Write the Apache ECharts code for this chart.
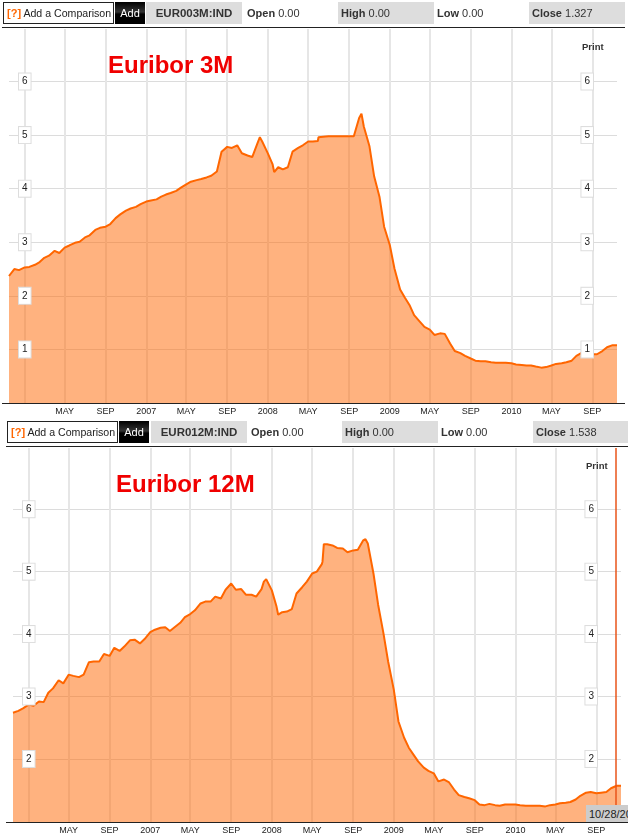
<!DOCTYPE html>
<html>
<head>
<meta charset="utf-8">
<title>Euribor 3M / 12M</title>
<script src="https://cdn.jsdelivr.net/npm/echarts@6/dist/echarts.min.js"></script>
<style>
html, body { margin: 0; padding: 0; background: #fff; }
body { width: 628px; height: 840px; position: relative; overflow: hidden; font-family: "Liberation Sans", Arial, sans-serif; color: #333; font-size: 11px; }
#chart { position: absolute; left: 0; top: 0; width: 628px; height: 840px; }
.bar { position: absolute; left: 0; width: 628px; height: 22px; line-height: 22px; }
.bar div { position: absolute; top: 0; height: 22px; white-space: nowrap; }
.cmp { box-sizing: border-box; border: 1px solid #222; width: 111px; line-height: 20px; color: #222; font-size: 10.6px; padding-left: 3px; }
.cmp b { color: #f60; font-size: 11px; }
.add { width: 30px; background: linear-gradient(#000 0, #333 45%, #000 55%); color: #fff; text-align: center; }
.ticker { width: 96px; background: #ddd; text-align: center; font-weight: bold; font-size: 11.5px; }
.grey { width: 96px; background: #ddd; }
.grey, .plain { padding-left: 3px; box-sizing: border-box; }
.plain { width: 90px; }
.rule { position: absolute; height: 1px; background: #222; }
.print { position: absolute; font-weight: bold; font-size: 9.5px; }
.stamp { position: absolute; left: 586px; top: 805px; width: 42px; height: 17px; line-height: 18px; background: #ccc; color: #222; overflow: hidden; white-space: nowrap; padding-left: 3px; box-sizing: border-box; }
</style>
</head>
<body>
<div id="chart"></div>

<div class="bar" style="top:2px">
  <div class="cmp" style="left:3px"><b>[?]</b> Add a Comparison</div>
  <div class="add" style="left:115px">Add</div>
  <div class="ticker" style="left:146px">EUR003M:IND</div>
  <div class="plain" style="left:244px"><b>Open</b> 0.00</div>
  <div class="grey" style="left:338px"><b>High</b> 0.00</div>
  <div class="plain" style="left:434px"><b>Low</b> 0.00</div>
  <div class="grey" style="left:529px"><b>Close</b> 1.327</div>
</div>
<div class="rule" style="left:2px;top:27px;width:623px"></div>
<div class="print" style="left:582px;top:41px">Print</div>
<div class="rule" style="left:2px;top:403px;width:623px"></div>

<div class="bar" style="top:421px">
  <div class="cmp" style="left:7px"><b>[?]</b> Add a Comparison</div>
  <div class="add" style="left:119px">Add</div>
  <div class="ticker" style="left:151px">EUR012M:IND</div>
  <div class="plain" style="left:248px"><b>Open</b> 0.00</div>
  <div class="grey" style="left:342px"><b>High</b> 0.00</div>
  <div class="plain" style="left:438px"><b>Low</b> 0.00</div>
  <div class="grey" style="left:533px;width:95px"><b>Close</b> 1.538</div>
</div>
<div class="rule" style="left:6px;top:446px;width:622px"></div>
<div class="print" style="left:586px;top:460px">Print</div>
<div class="rule" style="left:6px;top:822px;width:622px"></div>
<div class="stamp">10/28/2010</div>

<script>
var dates = [
    '2005-11-15','2005-12-01','2005-12-15',
    '2006-01-01','2006-01-15','2006-02-01','2006-02-15','2006-03-01','2006-03-15','2006-04-01','2006-04-15',
    '2006-05-01','2006-05-15','2006-06-01','2006-06-15','2006-07-01','2006-07-15','2006-08-01','2006-08-15',
    '2006-09-01','2006-09-15','2006-10-01','2006-10-15','2006-11-01','2006-11-15','2006-12-01','2006-12-15',
    '2007-01-01','2007-01-15','2007-02-01','2007-02-15','2007-03-01','2007-03-15','2007-04-01','2007-04-15',
    '2007-05-01','2007-05-15','2007-06-01','2007-06-15','2007-07-01','2007-07-15','2007-08-01','2007-08-15',
    '2007-09-01','2007-09-15','2007-10-01','2007-10-15','2007-11-01','2007-11-15','2007-12-01','2007-12-08','2007-12-15',
    '2008-01-01','2008-01-15','2008-01-20','2008-02-01','2008-02-15','2008-03-01','2008-03-15','2008-04-01','2008-04-15',
    '2008-05-01','2008-05-15','2008-05-30','2008-06-01','2008-06-05','2008-06-15','2008-07-01','2008-07-15','2008-08-01','2008-08-15',
    '2008-09-01','2008-09-15','2008-10-01','2008-10-08','2008-10-15','2008-11-01','2008-11-15','2008-12-01','2008-12-15',
    '2009-01-01','2009-01-15','2009-02-01','2009-02-15','2009-03-01','2009-03-15','2009-04-01','2009-04-15',
    '2009-05-01','2009-05-15','2009-06-01','2009-06-15','2009-07-01','2009-07-15','2009-08-01','2009-08-15',
    '2009-09-01','2009-09-15','2009-10-01','2009-10-15','2009-11-01','2009-11-15','2009-12-01','2009-12-15',
    '2010-01-01','2010-01-15','2010-02-01','2010-02-15','2010-03-01','2010-03-15','2010-04-01','2010-04-15',
    '2010-05-01','2010-05-15','2010-06-01','2010-06-15','2010-07-01','2010-07-15','2010-08-01','2010-08-15',
    '2010-09-01','2010-09-15','2010-10-01','2010-10-15','2010-11-01','2010-11-14'
];

var euribor3m = [
    2.37,2.50,2.48,
    2.53,2.54,2.58,2.63,2.71,2.75,2.84,2.80,
    2.90,2.94,2.99,3.01,3.09,3.13,3.23,3.27,
    3.29,3.34,3.45,3.52,3.59,3.63,3.66,3.71,
    3.76,3.78,3.80,3.85,3.89,3.92,3.96,4.02,
    4.08,4.13,4.16,4.18,4.21,4.24,4.32,4.69,
    4.78,4.76,4.81,4.66,4.62,4.59,4.85,4.96,4.88,
    4.66,4.46,4.31,4.40,4.36,4.40,4.69,4.76,4.81,
    4.88,4.88,4.89,4.96,4.97,4.97,4.98,4.98,4.98,4.98,
    4.98,4.98,5.32,5.40,5.16,4.79,4.23,3.85,3.29,
    2.95,2.51,2.12,1.97,1.83,1.64,1.52,1.42,
    1.37,1.27,1.30,1.29,1.11,0.97,0.93,0.88,
    0.83,0.79,0.78,0.78,0.76,0.75,0.75,0.75,
    0.74,0.72,0.71,0.70,0.70,0.68,0.66,0.67,
    0.70,0.73,0.74,0.76,0.79,0.88,0.94,0.94,
    0.91,0.91,0.97,1.04,1.08,1.08
];

var euribor12m = [
    2.74,2.77,2.81,
    2.87,2.85,2.92,2.91,3.06,3.13,3.26,3.21,
    3.35,3.33,3.31,3.35,3.55,3.56,3.56,3.68,
    3.65,3.78,3.73,3.80,3.90,3.91,3.85,3.92,
    4.03,4.07,4.10,4.11,4.05,4.11,4.18,4.27,
    4.32,4.38,4.49,4.52,4.52,4.60,4.57,4.71,
    4.81,4.71,4.72,4.63,4.63,4.60,4.72,4.84,4.88,
    4.70,4.44,4.31,4.35,4.36,4.40,4.65,4.75,4.84,
    4.97,5.00,5.12,5.16,5.44,5.44,5.42,5.38,5.37,5.31,
    5.34,5.35,5.50,5.52,5.45,4.97,4.47,4.01,3.56,
    3.11,2.60,2.34,2.18,2.07,1.96,1.86,1.81,
    1.77,1.64,1.67,1.63,1.51,1.42,1.39,1.37,
    1.34,1.27,1.26,1.28,1.26,1.25,1.27,1.27,
    1.27,1.26,1.25,1.25,1.25,1.25,1.24,1.26,
    1.27,1.29,1.30,1.31,1.35,1.41,1.46,1.47,
    1.45,1.46,1.47,1.53,1.57,1.57
];

var tickDates = [
    '2006-01-01','2006-05-01','2006-09-01','2007-01-01','2007-05-01','2007-09-01','2008-01-01',
    '2008-05-01','2008-09-01','2009-01-01','2009-05-01','2009-09-01','2010-01-01','2010-05-01','2010-09-01'
];
var tickLabels = ['','MAY','SEP','2007','MAY','SEP','2008','MAY','SEP','2009','MAY','SEP','2010','MAY','SEP'];
var ticks3m = [1, 2, 3, 4, 5, 6];
var ticks12m = [2, 3, 4, 5, 6];
var cursorDate = '2010-10-28';

var FONT = '"Liberation Sans", Arial, sans-serif';

function toTime(d) {
    return +new Date(d);
}
var tickTimes = tickDates.map(toTime);

function pairs(values) {
    return values.map(function (v, i) { return [toTime(dates[i]), v]; });
}

// 一个价格轴：grid 线、左标签、右标签分开，标签要压在面积图上面
function priceAxis(gridIndex, min, max, ticks, kind) {
    var axis = {
        type: 'value',
        gridIndex: gridIndex,
        min: min,
        max: max,
        position: kind === 'right' ? 'right' : 'left',
        axisLine: { show: false },
        axisTick: { show: false, customValues: ticks },
        splitLine: { show: false },
        axisLabel: { show: false, customValues: ticks }
    };
    if (kind === 'lines') {
        axis.splitLine = { show: true, lineStyle: { color: '#dcdcdc', width: 1 } };
    } else {
        axis.z = 5;
        axis.axisLabel = {
            show: true,
            customValues: ticks,
            inside: true,
            margin: kind === 'right' ? 24 : 10,
            color: '#222',
            fontFamily: FONT,
            fontSize: 10,
            backgroundColor: '#fff',
            borderColor: '#ddd',
            borderWidth: 1,
            padding: [2, 3, 4, 3]
        };
    }
    return axis;
}

// 时间轴用数值轴画，刻度和标签都来自 tickDates / tickLabels
function timeAxis(gridIndex) {
    return {
        type: 'value',
        gridIndex: gridIndex,
        min: toTime('2005-11-15'),
        max: toTime('2010-11-14'),
        axisLine: { show: false },
        axisTick: { show: false, customValues: tickTimes },
        splitLine: { show: true, lineStyle: { color: '#e6e6e6', width: 2 } },
        axisLabel: {
            customValues: tickTimes,
            color: '#222',
            fontFamily: FONT,
            fontSize: 9,
            margin: 4,
            hideOverlap: false,
            formatter: function (value) { return tickLabels[tickTimes.indexOf(value)]; }
        }
    };
}

function priceSeries(name, gridIndex, yIndex, values, extra) {
    var s = {
        name: name,
        type: 'line',
        xAxisIndex: gridIndex,
        yAxisIndex: yIndex,
        data: pairs(values),
        symbol: 'none',
        silent: true,
        clip: true,
        lineStyle: { color: '#ff6600', width: 2 },
        areaStyle: { color: '#ff6600', opacity: 0.5 }
    };
    return Object.assign(s, extra || {});
}

var cursorStyle = { color: '#e8541a', width: 1.5, type: 'solid', opacity: 1 };

var chart = echarts.init(document.getElementById('chart'));
var option = {
    animation: false,
    title: [
        { text: 'Euribor 3M', left: 103, top: 49, textStyle: { color: '#f00000', fontFamily: FONT, fontWeight: 'bold', fontSize: 24 } },
        { text: 'Euribor 12M', left: 111, top: 468, textStyle: { color: '#f00000', fontFamily: FONT, fontWeight: 'bold', fontSize: 24 } }
    ],
    grid: [
        { left: 9, width: 608, top: 29, height: 374 },
        { left: 13, width: 608, top: 448, height: 374 }
    ],
    xAxis: [timeAxis(0), timeAxis(1)],
    yAxis: [
        priceAxis(0, 0, 6.98, ticks3m, 'lines'),
        priceAxis(0, 0, 6.98, ticks3m, 'left'),
        priceAxis(0, 0, 6.98, ticks3m, 'right'),
        priceAxis(1, 0.99, 6.98, ticks12m, 'lines'),
        priceAxis(1, 0.99, 6.98, ticks12m, 'left'),
        priceAxis(1, 0.99, 6.98, ticks12m, 'right')
    ],
    series: [
        priceSeries('EUR003M:IND', 0, 0, euribor3m),
        priceSeries('EUR012M:IND', 1, 3, euribor12m, {
            markLine: {
                silent: true,
                symbol: 'none',
                z: 6,
                label: { show: false },
                lineStyle: cursorStyle,
                data: [{ xAxis: toTime(cursorDate), lineStyle: cursorStyle }]
            }
        })
    ]
};

chart.setOption(option);
</script>
</body>
</html>
